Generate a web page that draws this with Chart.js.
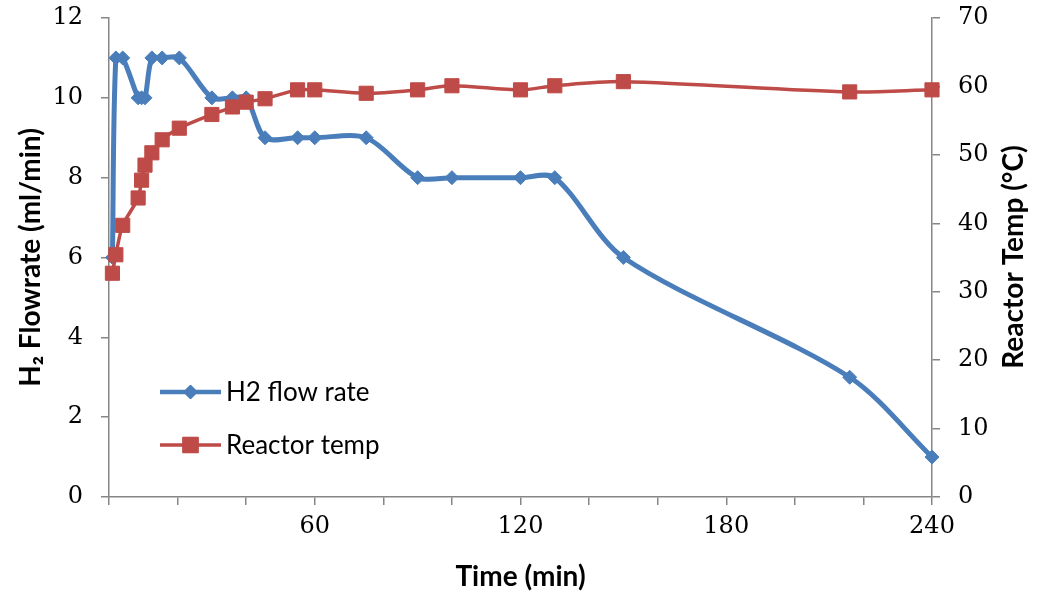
<!DOCTYPE html>
<html>
<head>
<meta charset="utf-8">
<script src="https://cdn.jsdelivr.net/npm/chart.js@4/dist/chart.umd.min.js"></script>
<style>
  html, body { margin: 0; padding: 0; background: #fff; }
  #wrap { width: 1038px; height: 594px; position: relative; }
</style>
</head>
<body>
<div id="wrap"><canvas id="chartH2"></canvas></div>
<script>
// Temps (min) des mesures, communs aux deux séries
var temps = [1, 2, 4, 8.5, 9.5, 10.5, 12.5, 15.5, 20.5, 30, 36, 40, 45.5, 55, 60, 75, 90, 100, 120, 130, 150, 216, 240];
// Débit H2 (ml/min)
var debitH2 = [6, 11, 11, 10, 10, 10, 11, 11, 11, 10, 10, 10, 9, 9, 9, 9, 8, 8, 8, 8, 6, 3, 1];
// Température du réacteur (°C)
var tempReacteur = [32.7, 35.4, 39.7, 43.7, 46.3, 48.5, 50.3, 52.2, 53.9, 55.9, 57, 57.7, 58.2, 59.5, 59.5, 59, 59.5, 60.1, 59.5, 60.1, 60.7, 59.2, 59.5];
// Étiquettes visibles sur l'axe du temps
var etiquettesTemps = [60, 120, 180, 240];
var nomsSeries = ['H2 flow rate', 'Reactor temp'];

var BLEU = '#4a7ebb';
var ROUGE = '#be4b48';
var GRIS = '#868686';
var fontTicks = { family: "'DejaVu Serif', serif", size: 24 };
var fontTitre = { family: "Lato, 'DejaVu Sans', sans-serif", size: 28, weight: 'bold' };

function points(xs, ys) {
    return xs.map(function (x, i) { return { x: x, y: ys[i] }; });
}

// Largeur fixe des axes verticaux, sans marge haute/basse due aux étiquettes
function axeVertical(largeur) {
    return function (s) {
        s.width = largeur;
        s.paddingTop = 0;
        s.paddingBottom = 0;
    };
}

// Légende dessinée dans la zone de tracé + titre de l'axe de droite (lu de bas en haut)
var extras = {
    id: 'extras',
    afterDatasetsDraw: function (chart) {
        var ctx = chart.ctx;
        ctx.save();
        var lignes = [
            { y: 392, couleur: BLEU, style: 'rectRot', r: 7, w: 4.5 },
            { y: 445, couleur: ROUGE, style: 'rect', r: 11, w: 3.5 }
        ];
        lignes.forEach(function (l, i) {
            ctx.strokeStyle = l.couleur;
            ctx.lineWidth = l.w;
            ctx.beginPath();
            ctx.moveTo(160, l.y);
            ctx.lineTo(221, l.y);
            ctx.stroke();
            ctx.fillStyle = l.couleur;
            ctx.lineWidth = 1;
            Chart.helpers.drawPoint(ctx, { pointStyle: l.style, radius: l.r, borderWidth: 1 }, 190.5, l.y);
            ctx.fill();
            ctx.fillStyle = '#000';
            ctx.font = "26px Lato, 'DejaVu Sans', sans-serif";
            ctx.textAlign = 'left';
            ctx.textBaseline = 'middle';
            ctx.fillText(nomsSeries[i], 226, l.y + 1);
        });

        ctx.translate(1014, 257);
        ctx.rotate(-Math.PI / 2);
        ctx.font = "bold 28px Lato, 'DejaVu Sans', sans-serif";
        ctx.textAlign = 'center';
        ctx.textBaseline = 'middle';
        ctx.fillStyle = '#000';
        ctx.fillText('Reactor Temp (°C)', 0, 0);
        ctx.restore();
    }
};

new Chart(document.getElementById('chartH2'), {
    type: 'line',
    data: {
        datasets: [{
            label: nomsSeries[1],
            data: points(temps, tempReacteur),
            yAxisID: 'y1',
            borderColor: ROUGE,
            backgroundColor: ROUGE,
            borderWidth: 3.5,
            pointStyle: 'rect',
            pointRadius: 10,
            pointBorderWidth: 1,
            tension: 0.3,
            clip: false,
            order: 0
        }, {
            label: nomsSeries[0],
            data: points(temps, debitH2),
            yAxisID: 'y',
            borderColor: BLEU,
            backgroundColor: BLEU,
            borderWidth: 5,
            pointStyle: 'rectRot',
            pointRadius: 7,
            pointBorderWidth: 1,
            tension: 0.3,
            clip: false,
            order: 1
        }]
    },
    options: {
        responsive: true,
        maintainAspectRatio: false,
        animation: false,
        layout: { padding: { top: 18, left: 0, right: 0, bottom: 0 } },
        plugins: {
            legend: { display: false },
            tooltip: { enabled: false }
        },
        scales: {
            x: {
                type: 'linear',
                min: 0,
                max: 240,
                afterFit: function (s) { s.height = 97; },
                border: { display: true, color: GRIS, width: 1.5 },
                grid: { display: true, drawOnChartArea: false, drawTicks: true, tickLength: 8, color: GRIS, lineWidth: 1.5 },
                ticks: {
                    stepSize: 20,
                    autoSkip: false,
                    maxRotation: 0,
                    padding: 7,
                    color: '#000',
                    font: fontTicks,
                    callback: function (v) { return etiquettesTemps.indexOf(v) >= 0 ? String(v) : ''; }
                },
                title: {
                    display: true,
                    text: 'Time (min)',
                    color: '#000',
                    font: fontTitre,
                    padding: { top: 0, bottom: 0 }
                }
            },
            y: {
                position: 'left',
                min: 0,
                max: 12,
                afterFit: axeVertical(109),
                border: { display: true, color: GRIS, width: 1.5 },
                grid: { display: true, drawOnChartArea: false, drawTicks: true, tickLength: 8, color: GRIS, lineWidth: 1.5 },
                ticks: { stepSize: 2, padding: 18, color: '#000', font: fontTicks },
                title: {
                    display: true,
                    text: 'H₂ Flowrate (ml/min)',
                    color: '#000',
                    font: fontTitre,
                    padding: { top: 14, bottom: 0 }
                }
            },
            y1: {
                position: 'right',
                min: 0,
                max: 70,
                afterFit: axeVertical(106),
                border: { display: true, color: GRIS, width: 1.5 },
                grid: { display: true, drawOnChartArea: false, drawTicks: true, tickLength: 8, color: GRIS, lineWidth: 1.5 },
                ticks: { stepSize: 10, padding: 18, color: '#000', font: fontTicks }
            }
        }
    },
    plugins: [extras]
});
</script>
</body>
</html>
